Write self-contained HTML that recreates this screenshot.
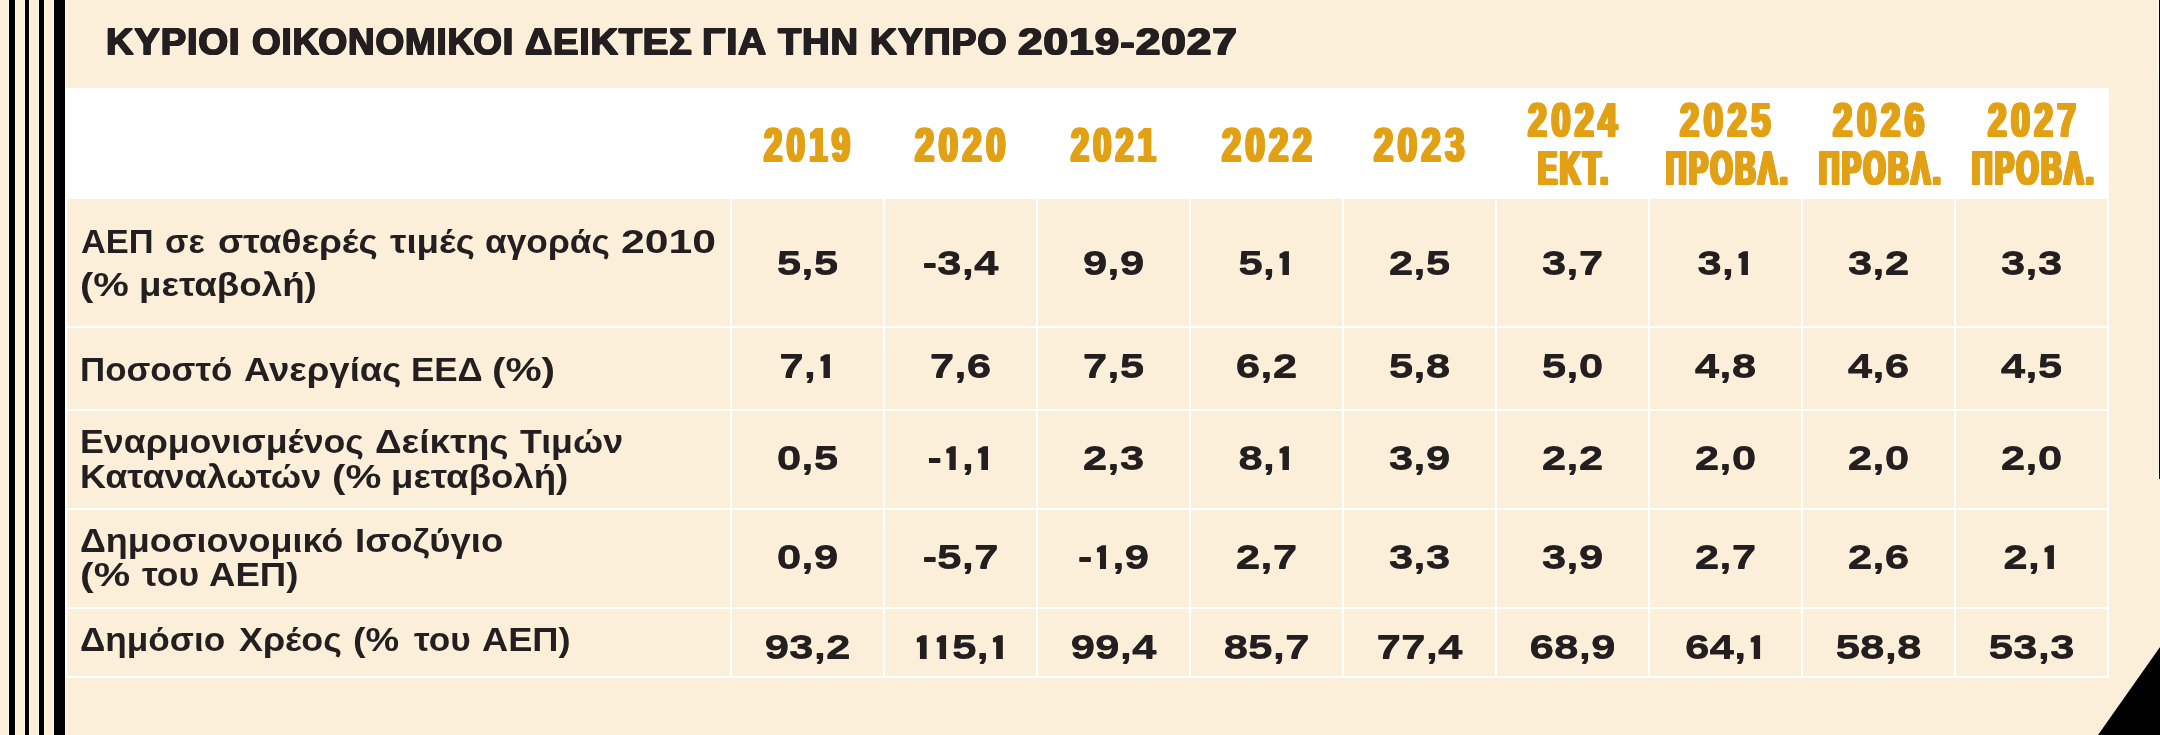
<!DOCTYPE html>
<html lang="el"><head><meta charset="utf-8"><title>ΚΥΡΙΟΙ ΟΙΚΟΝΟΜΙΚΟΙ ΔΕΙΚΤΕΣ ΓΙΑ ΤΗΝ ΚΥΠΡΟ 2019-2027</title>
<style>
html,body{margin:0;padding:0;}
body{width:2160px;height:735px;overflow:hidden;background:#FBEFDA;font-family:"Liberation Sans",sans-serif;}
#page{will-change:transform;position:relative;width:2160px;height:735px;overflow:hidden;background:#FBEFDA;}
.bar{position:absolute;top:0;height:735px;background:#000;box-shadow:-1px 0 0 #FFF8E6,1px 0 0 #FFF8E6;}
.w{position:absolute;background:#fff;}
.t{position:absolute;height:0;line-height:0;white-space:nowrap;font-weight:bold;color:#231F20;transform-origin:0 0;}
.hdr{color:#E2A115;}
.num{width:153px;text-align:center;font-size:32.50px;transform-origin:50% 0;transform:scaleX(1.3600);text-shadow:0 1px 0 #231F20;}
.o{display:inline-block;position:relative;font-size:0;line-height:0;width:7.35px;height:0;margin:0 4.12px 0 3.01px;}
.o::before{content:"";position:absolute;left:0;bottom:-1px;width:100%;height:24px;background:#231F20;clip-path:polygon(54% 0,100% 0,100% 100%,33% 100%,33% 29%,0 29%,0 12.5%);}
</style></head><body><div id="page">
<div class="bar" style="left:9px;width:6px"></div>
<div class="bar" style="left:25px;width:4px"></div>
<div class="bar" style="left:39px;width:5px"></div>
<div class="bar" style="left:54px;width:11px"></div>
<div class="bar" style="left:2158px;width:2px;height:75px"></div>
<div class="bar" style="left:2159px;width:1px;height:479px"></div>
<svg style="position:absolute;left:2090px;top:640px" width="70" height="95" viewBox="2090 640 70 95"><polygon points="2160,647 2160,735 2098,735" fill="#000"/></svg>
<div class="w" style="left:65px;top:88px;width:2044px;height:111px"></div>
<div class="w" style="left:65px;top:199px;width:2px;height:479px"></div>
<div class="w" style="left:730px;top:199px;width:2px;height:479px"></div>
<div class="w" style="left:883px;top:199px;width:2px;height:479px"></div>
<div class="w" style="left:1036px;top:199px;width:2px;height:479px"></div>
<div class="w" style="left:1189px;top:199px;width:2px;height:479px"></div>
<div class="w" style="left:1342px;top:199px;width:2px;height:479px"></div>
<div class="w" style="left:1495px;top:199px;width:2px;height:479px"></div>
<div class="w" style="left:1648px;top:199px;width:2px;height:479px"></div>
<div class="w" style="left:1801px;top:199px;width:2px;height:479px"></div>
<div class="w" style="left:1954px;top:199px;width:2px;height:479px"></div>
<div class="w" style="left:2107px;top:199px;width:2px;height:479px"></div>
<div class="w" style="left:65px;top:326px;width:2044px;height:2px"></div>
<div class="w" style="left:65px;top:409px;width:2044px;height:2px"></div>
<div class="w" style="left:65px;top:508px;width:2044px;height:2px"></div>
<div class="w" style="left:65px;top:607px;width:2044px;height:2px"></div>
<div class="w" style="left:65px;top:676px;width:2044px;height:2px"></div>
<div class="t ttl" style="left:106.14px;top:41.53px;font-size:36.00px;transform:scaleX(1.0594);letter-spacing:0.80px;text-shadow:0.75px 0px 0 #231F20,-0.75px 0px 0 #231F20,0px 1px 0 #231F20,0.75px 1px 0 #231F20,-0.75px 1px 0 #231F20;">ΚΥΡΙΟΙ</div>
<div class="t ttl" style="left:252.06px;top:41.53px;font-size:36.00px;transform:scaleX(1.0253);letter-spacing:0.80px;text-shadow:0.75px 0px 0 #231F20,-0.75px 0px 0 #231F20,0px 1px 0 #231F20,0.75px 1px 0 #231F20,-0.75px 1px 0 #231F20;">ΟΙΚΟΝΟΜΙΚΟΙ</div>
<div class="t ttl" style="left:524.65px;top:41.53px;font-size:36.00px;transform:scaleX(1.0538);letter-spacing:0.80px;text-shadow:0.75px 0px 0 #231F20,-0.75px 0px 0 #231F20,0px 1px 0 #231F20,0.75px 1px 0 #231F20,-0.75px 1px 0 #231F20;">ΔΕΙΚΤΕΣ</div>
<div class="t ttl" style="left:702.10px;top:41.53px;font-size:36.00px;transform:scaleX(1.0840);letter-spacing:0.80px;text-shadow:0.75px 0px 0 #231F20,-0.75px 0px 0 #231F20,0px 1px 0 #231F20,0.75px 1px 0 #231F20,-0.75px 1px 0 #231F20;">ΓΙΑ</div>
<div class="t ttl" style="left:777.87px;top:41.53px;font-size:36.00px;transform:scaleX(1.0572);letter-spacing:0.80px;text-shadow:0.75px 0px 0 #231F20,-0.75px 0px 0 #231F20,0px 1px 0 #231F20,0.75px 1px 0 #231F20,-0.75px 1px 0 #231F20;">ΤΗΝ</div>
<div class="t ttl" style="left:869.57px;top:41.53px;font-size:36.00px;transform:scaleX(1.0404);letter-spacing:0.80px;text-shadow:0.75px 0px 0 #231F20,-0.75px 0px 0 #231F20,0px 1px 0 #231F20,0.75px 1px 0 #231F20,-0.75px 1px 0 #231F20;">ΚΥΠΡΟ</div>
<div class="t ttl" style="left:1018.29px;top:41.53px;font-size:36.00px;transform:scaleX(1.2255);letter-spacing:0.80px;text-shadow:0.75px 0px 0 #231F20,-0.75px 0px 0 #231F20,0px 1px 0 #231F20,0.75px 1px 0 #231F20,-0.75px 1px 0 #231F20;">2019-2027</div>
<div class="t lbl" style="left:81.34px;top:240.99px;font-size:33.80px;transform:scaleX(1.0185);">ΑΕΠ</div>
<div class="t lbl" style="left:165.26px;top:240.99px;font-size:33.80px;transform:scaleX(1.0135);">σε</div>
<div class="t lbl" style="left:217.56px;top:240.99px;font-size:33.80px;transform:scaleX(1.0933);">σταθερές</div>
<div class="t lbl" style="left:389.68px;top:240.99px;font-size:33.80px;transform:scaleX(1.0872);">τιμές</div>
<div class="t lbl" style="left:485.02px;top:240.99px;font-size:33.80px;transform:scaleX(1.0443);">αγοράς</div>
<div class="t lbl" style="left:621.42px;top:240.99px;font-size:33.80px;transform:scaleX(1.2626);">2010</div>
<div class="t lbl" style="left:80.21px;top:283.79px;font-size:33.80px;transform:scaleX(1.1825);">(%</div>
<div class="t lbl" style="left:139.22px;top:283.79px;font-size:33.80px;transform:scaleX(1.0868);">μεταβολή)</div>
<div class="t lbl" style="left:80.47px;top:369.29px;font-size:33.80px;transform:scaleX(1.0314);">Ποσοστό</div>
<div class="t lbl" style="left:243.79px;top:369.29px;font-size:33.80px;transform:scaleX(1.0813);">Ανεργίας</div>
<div class="t lbl" style="left:411.36px;top:369.29px;font-size:33.80px;transform:scaleX(1.0330);">ΕΕΔ</div>
<div class="t lbl" style="left:492.48px;top:369.29px;font-size:33.80px;transform:scaleX(1.2014);">(%)</div>
<div class="t lbl" style="left:80.41px;top:440.79px;font-size:33.80px;transform:scaleX(1.0570);">Εναρμονισμένος</div>
<div class="t lbl" style="left:375.20px;top:440.79px;font-size:33.80px;transform:scaleX(1.0960);">Δείκτης</div>
<div class="t lbl" style="left:519.80px;top:440.79px;font-size:33.80px;transform:scaleX(1.0571);">Τιμών</div>
<div class="t lbl" style="left:80.39px;top:475.99px;font-size:33.80px;transform:scaleX(1.0660);">Καταναλωτών</div>
<div class="t lbl" style="left:331.79px;top:475.99px;font-size:33.80px;transform:scaleX(1.1928);">(%</div>
<div class="t lbl" style="left:390.92px;top:475.99px;font-size:33.80px;transform:scaleX(1.0837);">μεταβολή)</div>
<div class="t lbl" style="left:80.24px;top:539.99px;font-size:33.80px;transform:scaleX(1.0646);">Δημοσιονομικό</div>
<div class="t lbl" style="left:355.06px;top:539.99px;font-size:33.80px;transform:scaleX(1.0805);">Ισοζύγιο</div>
<div class="t lbl" style="left:79.66px;top:573.89px;font-size:33.80px;transform:scaleX(1.2109);">(%</div>
<div class="t lbl" style="left:141.69px;top:573.89px;font-size:33.80px;transform:scaleX(1.0479);">του</div>
<div class="t lbl" style="left:208.59px;top:573.89px;font-size:33.80px;transform:scaleX(1.0826);">ΑΕΠ)</div>
<div class="t lbl" style="left:80.27px;top:639.49px;font-size:33.80px;transform:scaleX(1.0415);">Δημόσιο</div>
<div class="t lbl" style="left:239.38px;top:639.49px;font-size:33.80px;transform:scaleX(1.0610);">Χρέος</div>
<div class="t lbl" style="left:353.42px;top:639.49px;font-size:33.80px;transform:scaleX(1.1180);">(%</div>
<div class="t lbl" style="left:414.39px;top:639.49px;font-size:33.80px;transform:scaleX(1.0403);">του</div>
<div class="t lbl" style="left:482.00px;top:639.49px;font-size:33.80px;transform:scaleX(1.0726);">ΑΕΠ)</div>
<div class="t hdr" style="left:764.15px;top:144.16px;font-size:48.60px;transform:scaleX(0.6746);letter-spacing:6.50px;text-shadow:2.2px 0px 0 #E2A115,-2.2px 0px 0 #E2A115,0px 1px 0 #E2A115,2.2px 1px 0 #E2A115,-2.2px 1px 0 #E2A115;">2019</div>
<div class="t hdr" style="left:915.26px;top:144.16px;font-size:48.60px;transform:scaleX(0.7084);letter-spacing:6.50px;text-shadow:2.2px 0px 0 #E2A115,-2.2px 0px 0 #E2A115,0px 1px 0 #E2A115,2.2px 1px 0 #E2A115,-2.2px 1px 0 #E2A115;">2020</div>
<div class="t hdr" style="left:1071.04px;top:144.16px;font-size:48.60px;transform:scaleX(0.6637);letter-spacing:6.50px;text-shadow:2.2px 0px 0 #E2A115,-2.2px 0px 0 #E2A115,0px 1px 0 #E2A115,2.2px 1px 0 #E2A115,-2.2px 1px 0 #E2A115;">2021</div>
<div class="t hdr" style="left:1222.16px;top:144.16px;font-size:48.60px;transform:scaleX(0.7034);letter-spacing:6.50px;text-shadow:2.2px 0px 0 #E2A115,-2.2px 0px 0 #E2A115,0px 1px 0 #E2A115,2.2px 1px 0 #E2A115,-2.2px 1px 0 #E2A115;">2022</div>
<div class="t hdr" style="left:1374.36px;top:144.16px;font-size:48.60px;transform:scaleX(0.7078);letter-spacing:6.50px;text-shadow:2.2px 0px 0 #E2A115,-2.2px 0px 0 #E2A115,0px 1px 0 #E2A115,2.2px 1px 0 #E2A115,-2.2px 1px 0 #E2A115;">2023</div>
<div class="t hdr" style="left:1528.36px;top:119.16px;font-size:48.60px;transform:scaleX(0.6989);letter-spacing:6.50px;text-shadow:2.2px 0px 0 #E2A115,-2.2px 0px 0 #E2A115,0px 1px 0 #E2A115,2.2px 1px 0 #E2A115,-2.2px 1px 0 #E2A115;">2024</div>
<div class="t hdr" style="left:1538.49px;top:168.47px;font-size:47.70px;transform:scaleX(0.6005);letter-spacing:4.50px;text-shadow:3px 0px 0 #E2A115,-3px 0px 0 #E2A115,0px 1px 0 #E2A115,3px 1px 0 #E2A115,-3px 1px 0 #E2A115;">ΕΚΤ.</div>
<div class="t hdr" style="left:1680.07px;top:119.16px;font-size:48.60px;transform:scaleX(0.7087);letter-spacing:6.50px;text-shadow:2.2px 0px 0 #E2A115,-2.2px 0px 0 #E2A115,0px 1px 0 #E2A115,2.2px 1px 0 #E2A115,-2.2px 1px 0 #E2A115;">2025</div>
<div class="t hdr" style="left:1666.19px;top:168.47px;font-size:47.70px;transform:scaleX(0.5926);letter-spacing:4.50px;text-shadow:3px 0px 0 #E2A115,-3px 0px 0 #E2A115,0px 1px 0 #E2A115,3px 1px 0 #E2A115,-3px 1px 0 #E2A115;">ΠΡΟΒΛ.</div>
<div class="t hdr" style="left:1833.17px;top:119.16px;font-size:48.60px;transform:scaleX(0.7148);letter-spacing:6.50px;text-shadow:2.2px 0px 0 #E2A115,-2.2px 0px 0 #E2A115,0px 1px 0 #E2A115,2.2px 1px 0 #E2A115,-2.2px 1px 0 #E2A115;">2026</div>
<div class="t hdr" style="left:1819.19px;top:168.47px;font-size:47.70px;transform:scaleX(0.5926);letter-spacing:4.50px;text-shadow:3px 0px 0 #E2A115,-3px 0px 0 #E2A115,0px 1px 0 #E2A115,3px 1px 0 #E2A115,-3px 1px 0 #E2A115;">ΠΡΟΒΛ.</div>
<div class="t hdr" style="left:1988.46px;top:119.16px;font-size:48.60px;transform:scaleX(0.6896);letter-spacing:6.50px;text-shadow:2.2px 0px 0 #E2A115,-2.2px 0px 0 #E2A115,0px 1px 0 #E2A115,2.2px 1px 0 #E2A115,-2.2px 1px 0 #E2A115;">2027</div>
<div class="t hdr" style="left:1972.19px;top:168.47px;font-size:47.70px;transform:scaleX(0.5926);letter-spacing:4.50px;text-shadow:3px 0px 0 #E2A115,-3px 0px 0 #E2A115,0px 1px 0 #E2A115,3px 1px 0 #E2A115,-3px 1px 0 #E2A115;">ΠΡΟΒΛ.</div>
<div class="t num" style="left:731px;top:263.24px">5,5</div>
<div class="t num" style="left:884px;top:263.24px">-3,4</div>
<div class="t num" style="left:1037px;top:263.24px">9,9</div>
<div class="t num" style="left:1190px;top:263.24px">5,<i class="o">1</i></div>
<div class="t num" style="left:1343px;top:263.24px">2,5</div>
<div class="t num" style="left:1496px;top:263.24px">3,7</div>
<div class="t num" style="left:1649px;top:263.24px">3,<i class="o">1</i></div>
<div class="t num" style="left:1802px;top:263.24px">3,2</div>
<div class="t num" style="left:1955px;top:263.24px">3,3</div>
<div class="t num" style="left:731px;top:366.24px">7,<i class="o">1</i></div>
<div class="t num" style="left:884px;top:366.24px">7,6</div>
<div class="t num" style="left:1037px;top:366.24px">7,5</div>
<div class="t num" style="left:1190px;top:366.24px">6,2</div>
<div class="t num" style="left:1343px;top:366.24px">5,8</div>
<div class="t num" style="left:1496px;top:366.24px">5,0</div>
<div class="t num" style="left:1649px;top:366.24px">4,8</div>
<div class="t num" style="left:1802px;top:366.24px">4,6</div>
<div class="t num" style="left:1955px;top:366.24px">4,5</div>
<div class="t num" style="left:731px;top:458.24px">0,5</div>
<div class="t num" style="left:884px;top:458.24px">-<i class="o">1</i>,<i class="o">1</i></div>
<div class="t num" style="left:1037px;top:458.24px">2,3</div>
<div class="t num" style="left:1190px;top:458.24px">8,<i class="o">1</i></div>
<div class="t num" style="left:1343px;top:458.24px">3,9</div>
<div class="t num" style="left:1496px;top:458.24px">2,2</div>
<div class="t num" style="left:1649px;top:458.24px">2,0</div>
<div class="t num" style="left:1802px;top:458.24px">2,0</div>
<div class="t num" style="left:1955px;top:458.24px">2,0</div>
<div class="t num" style="left:731px;top:557.24px">0,9</div>
<div class="t num" style="left:884px;top:557.24px">-5,7</div>
<div class="t num" style="left:1037px;top:557.24px">-<i class="o">1</i>,9</div>
<div class="t num" style="left:1190px;top:557.24px">2,7</div>
<div class="t num" style="left:1343px;top:557.24px">3,3</div>
<div class="t num" style="left:1496px;top:557.24px">3,9</div>
<div class="t num" style="left:1649px;top:557.24px">2,7</div>
<div class="t num" style="left:1802px;top:557.24px">2,6</div>
<div class="t num" style="left:1955px;top:557.24px">2,<i class="o">1</i></div>
<div class="t num" style="left:731px;top:647.24px">93,2</div>
<div class="t num" style="left:884px;top:647.24px"><i class="o">1</i><i class="o">1</i>5,<i class="o">1</i></div>
<div class="t num" style="left:1037px;top:647.24px">99,4</div>
<div class="t num" style="left:1190px;top:647.24px">85,7</div>
<div class="t num" style="left:1343px;top:647.24px">77,4</div>
<div class="t num" style="left:1496px;top:647.24px">68,9</div>
<div class="t num" style="left:1649px;top:647.24px">64,<i class="o">1</i></div>
<div class="t num" style="left:1802px;top:647.24px">58,8</div>
<div class="t num" style="left:1955px;top:647.24px">53,3</div>
</div></body></html>
